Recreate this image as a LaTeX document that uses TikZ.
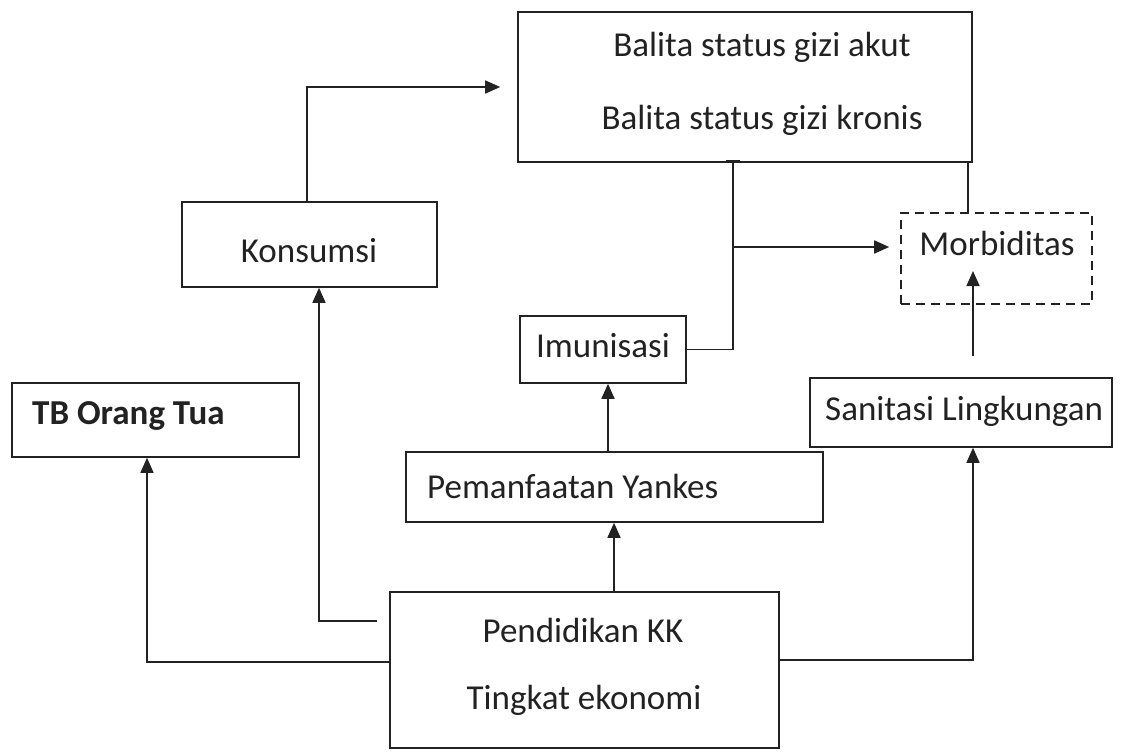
\documentclass[tikz,border=0pt]{standalone}
\usepackage{fontspec}
\setmainfont{Carlito}
\usetikzlibrary{arrows.meta}
\definecolor{ink}{HTML}{222222}
\tikzset{
  box/.style={draw=ink, line width=1.6pt, rectangle, inner sep=0pt},
  dbox/.style={box, dash pattern=on 9pt off 6pt},
  lbl/.style={font=\fontsize{35}{42}\selectfont, text=ink, inner sep=0pt},
  con/.style={draw=ink, line width=1.6pt},
  arr/.style={con, -{Triangle[length=15pt,width=13pt]}},
}
\begin{document}
\begin{tikzpicture}[x=1pt,y=-1pt]
\useasboundingbox[fill=white] (0,0) rectangle (1123,752);
% boxes
\node[box, minimum width=454pt, minimum height=150pt] (gizi) at (745,87) {};
\node[box, minimum width=255pt, minimum height=85pt] (kons) at (309.5,244.5) {};
\node[dbox, minimum width=191pt, minimum height=91pt] (morb) at (996.5,258.5) {};
\node[box, minimum width=166pt, minimum height=67pt] (imun) at (603,349.5) {};
\node[box, minimum width=287pt, minimum height=74pt] (tb) at (155.5,420) {};
\node[box, minimum width=302pt, minimum height=69pt] (sani) at (961,412.5) {};
\node[box, minimum width=417pt, minimum height=70pt] (yank) at (614.5,487) {};
\node[box, minimum width=389pt, minimum height=156pt] (pend) at (584.5,670) {};
% texts
\node[lbl] (tgizi1) at (762,47) {Balita status gizi akut};
\node[lbl] (tgizi2) at (762,120) {Balita status gizi kronis};
\node[lbl] (tkons) at (309,251) {Konsumsi};
\node[lbl] (tmorb) at (997,243) {Morbiditas};
\node[lbl] (timun) at (603,346) {Imunisasi};
\node[lbl, anchor=west, font=\fontsize{35}{42}\selectfont\bfseries] (ttb) at (32,416) {TB Orang Tua};
\node[lbl, anchor=west] (tsani) at (825,411) {Sanitasi Lingkungan};
\node[lbl, anchor=west] (tyank) at (427,486) {Pemanfaatan Yankes};
\node[lbl] (tpend1) at (583,630) {Pendidikan KK};
\node[lbl] (tpend2) at (584,700) {Tingkat ekonomi};
% helper coordinates
\coordinate (j) at (733,247);
\coordinate (xm) at (968,0);
\coordinate (xs) at (973,0);
\coordinate (mtip) at (973,271);
\coordinate (xi) at (608,0);
\coordinate (xp) at (614,0);
\coordinate (xk) at (319,621);
\coordinate (xt) at (147,662);
\coordinate (xr) at (973,660);
% connectors
\draw[arr, shorten >=17pt] (kons.north -| 307,0) |- (gizi.west);
\draw[con] (imun.east) -| (j) -- (j |- gizi.south);
\draw[con, line width=3pt] ([xshift=-7pt,yshift=1pt]j |- gizi.south) -- ([xshift=7pt,yshift=1pt]j |- gizi.south);
\draw[arr, shorten >=11pt] (j) -- (j -| morb.west);
\draw[con] (gizi.south -| xm) -- (morb.north -| xm);
\draw[arr, shorten <=21pt] (sani.north -| xs) -- (mtip);
\draw[arr] (yank.north -| xi) -- (imun.south -| xi);
\draw[arr] (pend.north -| xp) -- (yank.south -| xp);
\draw[arr, shorten <=12pt] (pend.west |- xk) -| (kons.south -| xk);
\draw[arr] (pend.west |- xt) -| (tb.south -| xt);
\draw[arr] (pend.east |- xr) -| (sani.south -| xr);
\end{tikzpicture}
\end{document}
